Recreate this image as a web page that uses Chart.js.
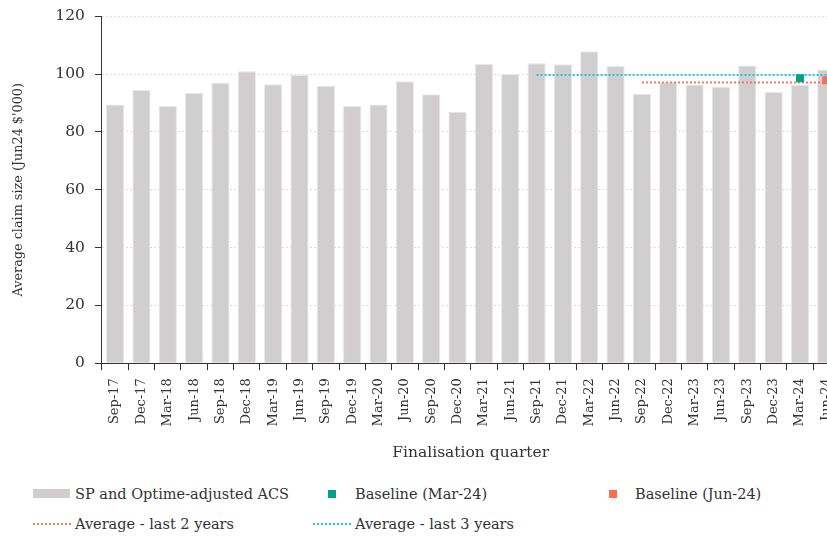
<!DOCTYPE html>
<html><head><meta charset="utf-8">
<script src="https://cdn.jsdelivr.net/npm/chart.js@4"></script>
<style>
html,body{margin:0;padding:0;background:#fff;overflow:hidden;width:827px;height:536px}
#wrap{position:absolute;left:0;top:-3px;width:850px;height:467px}
.lg{position:absolute;font-family:"DejaVu Serif",serif;font-size:14.5px;color:#333;line-height:20px;white-space:nowrap}
.sw{position:absolute}
</style></head><body>
<div id="wrap"><canvas id="c"></canvas></div>
<div class="sw" style="left:33px;top:489px;width:37px;height:9px;background:#d0cece"></div>
<div class="lg" style="left:75px;top:484px">SP and Optime-adjusted ACS</div>
<div class="sw" style="left:328px;top:490px;width:8px;height:8px;background:#00a38a"></div>
<div class="lg" style="left:355px;top:484px">Baseline (Mar-24)</div>
<div class="sw" style="left:609px;top:490px;width:8px;height:8px;background:#ff6b4f"></div>
<div class="lg" style="left:635px;top:484px">Baseline (Jun-24)</div>
<div class="sw" style="left:33px;top:523px;width:38px;height:0;border-top:2px dotted #f4775c"></div>
<div class="lg" style="left:75px;top:514px">Average - last 2 years</div>
<div class="sw" style="left:313px;top:523px;width:38px;height:0;border-top:2px dotted #1ec3de"></div>
<div class="lg" style="left:355px;top:514px">Average - last 3 years</div>
<script>
const quarters = ["Sep-17","Dec-17","Mar-18","Jun-18","Sep-18","Dec-18","Mar-19","Jun-19","Sep-19","Dec-19","Mar-20","Jun-20","Sep-20","Dec-20","Mar-21","Jun-21","Sep-21","Dec-21","Mar-22","Jun-22","Sep-22","Dec-22","Mar-23","Jun-23","Sep-23","Dec-23","Mar-24","Jun-24"];
const acs = [89.5,94.5,89,93.5,97,101,96.5,99.8,96,89,89.5,97.5,93,87,103.5,100,103.8,103.4,107.9,102.8,93.2,97.2,96.4,95.6,103,93.8,96.3,101.6];
const avg2 = [null,null,null,null,null,null,null,null,null,null,null,null,null,null,null,null,null,null,null,null,97.1,97.1,97.1,97.1,97.1,97.1,97.1,97.1];
const avg3 = [null,null,null,null,null,null,null,null,null,null,null,null,null,null,null,null,99.7,99.7,99.7,99.7,99.7,99.7,99.7,99.7,99.7,99.7,99.7,99.7];
const baseMar24 = [null,null,null,null,null,null,null,null,null,null,null,null,null,null,null,null,null,null,null,null,null,null,null,null,null,null,98.6,null];
const baseJun24 = [null,null,null,null,null,null,null,null,null,null,null,null,null,null,null,null,null,null,null,null,null,null,null,null,null,null,null,97.9];
const yTicks = [0,20,40,60,80,100,120];

const FONT = "'DejaVu Serif', serif";
new Chart(document.getElementById('c'), {
  type: 'bar',
  data: {
    labels: quarters,
    datasets: [
      {type:'line', label:'Baseline (Mar-24)', data: baseMar24, showLine:false, pointStyle:'rect', pointRadius:5.7, pointBackgroundColor:'#00a38a', pointBorderWidth:0, order:0},
      {type:'line', label:'Baseline (Jun-24)', data: baseJun24, showLine:false, pointStyle:'rect', pointRadius:5.7, pointBackgroundColor:'#ff6b4f', pointBorderWidth:0, order:0},
      {type:'line', label:'Average - last 2 years', data: avg2, borderColor:'#f4775c', borderWidth:2, borderDash:[2,2], pointRadius:0, order:1},
      {type:'line', label:'Average - last 3 years', data: avg3, borderColor:'#1ec3de', borderWidth:2, borderDash:[2,2], pointRadius:0, order:1},
      {label:'SP and Optime-adjusted ACS', data: acs, backgroundColor:'#d0cece', borderColor:'#e9e8e8', borderWidth:1, barPercentage:0.9, categoryPercentage:0.77, order:3}
    ]
  },
  options: {
    responsive:true, maintainAspectRatio:false, animation:false,
    layout:{padding:{top:7,right:0,left:11,bottom:0}},
    plugins:{legend:{display:false}, tooltip:{enabled:false}},
    scales:{
      x:{
        grid:{display:true, drawOnChartArea:false, drawTicks:true, tickLength:7, tickColor:'#333', offset:true},
        border:{color:'#333', width:1},
        ticks:{color:'#333', font:{family:FONT, size:13}, maxRotation:90, minRotation:90, autoSkip:false, padding:8},
        title:{display:true, text:'Finalisation quarter', color:'#333', font:{family:FONT, size:15.5}, padding:{top:9, bottom:2}}
      },
      y:{
        min:0, max:120,
        afterBuildTicks: (s) => { s.ticks = yTicks.map(v => ({value:v})); },
        grid:{color:'#dddddd', tickColor:'#333', tickLength:7},
        border:{color:'#333', width:1, dash:[2,2]},
        ticks:{color:'#333', font:{family:FONT, size:15.5}, padding:10},
        title:{display:true, text:"Average claim size (Jun24 $'000)", color:'#333', font:{family:FONT, size:12.8}, padding:{top:0,bottom:19}}
      }
    }
  }
});
</script>
</body></html>
